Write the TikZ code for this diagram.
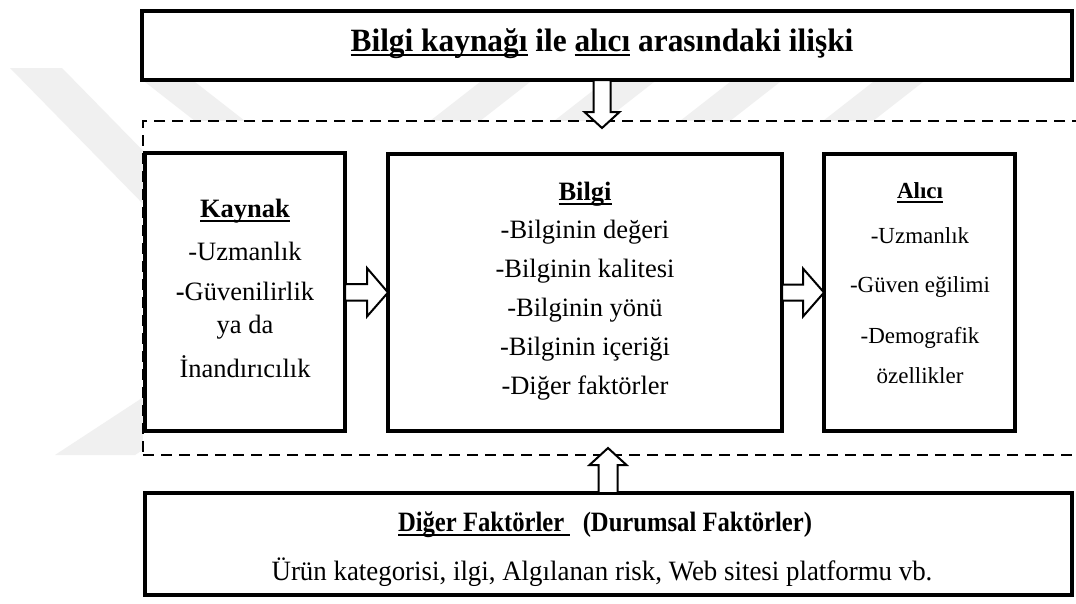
\documentclass[tikz,border=0pt]{standalone}
\usepackage{fontspec}
\usepackage{graphicx}
\setmainfont{Liberation Serif}
\usetikzlibrary{calc}

% underline drawn as a rule just below the baseline
\newcommand\uln[1]{\setbox0=\hbox{#1}\rlap{\rule[-4.5pt]{\wd0}{2pt}}\box0\relax}
\newcommand\fs[1]{\fontsize{#1}{#1}\selectfont}

\tikzset{
  frame/.style={draw=black, line width=4pt, fill=white, inner sep=0pt, outer sep=0pt},
  group/.style={draw=black, line width=2pt, dash pattern=on 11pt off 7pt, fill=white,
                inner sep=0pt, outer sep=0pt},
  blk/.style={draw=black, line width=2pt, fill=white, line join=miter},
  txt/.style={anchor=base, inner sep=0pt, font=\fs{26.5}},
  txtb/.style={anchor=base, inner sep=0pt, font=\fs{26.5}\bfseries},
  small/.style={anchor=base, inner sep=0pt, font=\fs{23}},
  smallb/.style={anchor=base, inner sep=0pt, font=\fs{23}\bfseries},
  wm/.style={fill=black!6, draw=none},
}

\begin{document}
\begin{tikzpicture}[x=1pt,y=-1pt]
\clip (0,0) rectangle (1076,603);
\fill[white] (0,0) rectangle (1076,603);

% faint background emblem
\fill[wm] (10,68) -- (62,68) -- (250,260) -- (198,260) -- cycle;
\fill[wm] (145,82) -- (195,82) -- (245,121) -- (195,121) -- cycle;
\foreach \m in {480,604,730,873}
  \fill[wm] (\m-50,121) -- (\m,121) -- (\m+50,82) -- (\m,82) -- cycle;
\fill[wm] (55,455) -- (135,455) -- (245,383) -- (165,383) -- cycle;

% dashed group around the three middle boxes
\node[group, minimum width=960pt, minimum height=334pt, anchor=north west] (grp) at (143,121) {};

% boxes
\node[frame, minimum width=930pt, minimum height=69pt] (top) at (607,45.5) {};
\node[frame, minimum width=200pt, minimum height=278pt] (kay) at (245,292) {};
\node[frame, minimum width=394pt, minimum height=277pt] (bil) at (585,292.5) {};
\node[frame, minimum width=191pt, minimum height=277pt] (alc) at (919.5,292.5) {};
\node[frame, minimum width=927pt, minimum height=102pt] (bot) at (608.5,544) {};

% block arrows
\draw[blk] ($(kay.east)+(0,-8)$) -- ++(22,0) -- ++(0,-16) -- (bil.west)
  -- ++(-21,24) -- ++(0,-16) -- ++(-22,0) -- cycle;
\draw[blk] ($(bil.east)+(0,-8)$) -- ++(21,0) -- ++(0,-16) -- (alc.west)
  -- ++(-21,24) -- ++(0,-16) -- ++(-21,0) -- cycle;
\coordinate (tipT) at (602,128);
\draw[blk] ($(top.south)+(-13.5,0)$) -- ++(0,32) -- ++(-9,0) -- (tipT)
  -- ++(17.5,-16) -- ++(-9,0) -- ++(0,-32) -- cycle;
\coordinate (tipB) at (608,448);
\draw[blk] ($(bot.north)+(-10,0)$) -- ++(0,-28) -- ++(-9,0) -- (tipB)
  -- ++(18.5,17) -- ++(-9,0) -- ++(0,28) -- cycle;

% title
\node[anchor=base, inner sep=0pt, font=\fs{32.5}\bfseries] (title) at (602,51)
  {\scalebox{0.965}[1]{\uln{Bilgi kaynağı} ile \uln{alıcı} arasındaki ilişki}};

% source
\node[txtb] (kayT) at (245,217) {\uln{Kaynak}};
\node[txt] (kay1) at (245,260) {-Uzmanlık};
\node[txt] (kay2) at (245,300) {\textbf{-}Güvenilirlik};
\node[txt] (kay3) at (245,333) {ya da};
\node[txt] (kay4) at (245,377) {İnandırıcılık};

% information
\node[txtb] (bilT) at (585,200) {\uln{Bilgi}};
\node[txt] (bil1) at (585,238) {-Bilginin değeri};
\node[txt] (bil2) at (585,277) {-Bilginin kalitesi};
\node[txt] (bil3) at (585,316) {-Bilginin yönü};
\node[txt] (bil4) at (585,355) {-Bilginin içeriği};
\node[txt] (bil5) at (585,394) {-Diğer faktörler};

% receiver
\node[smallb] (alcT) at (920,198) {\uln{Alıcı}};
\node[small] (alc1) at (920,243) {-Uzmanlık};
\node[small] (alc2) at (920,292) {-Güven eğilimi};
\node[small] (alc3) at (920,343) {-Demografik};
\node[small] (alc4) at (920,383) {özellikler};

% other factors
\node[anchor=base, inner sep=0pt, font=\fs{28}\bfseries] (botT) at (605,531)
  {\scalebox{0.88}[1]{\uln{Diğer Faktörler\ }\ \ (Durumsal Faktörler)}};
\node[anchor=base, inner sep=0pt, font=\fs{28}] (bot1) at (602,580)
  {\scalebox{0.96}[1]{Ürün kategorisi, ilgi, Algılanan risk, Web sitesi platformu vb.}};
\end{tikzpicture}
\end{document}
